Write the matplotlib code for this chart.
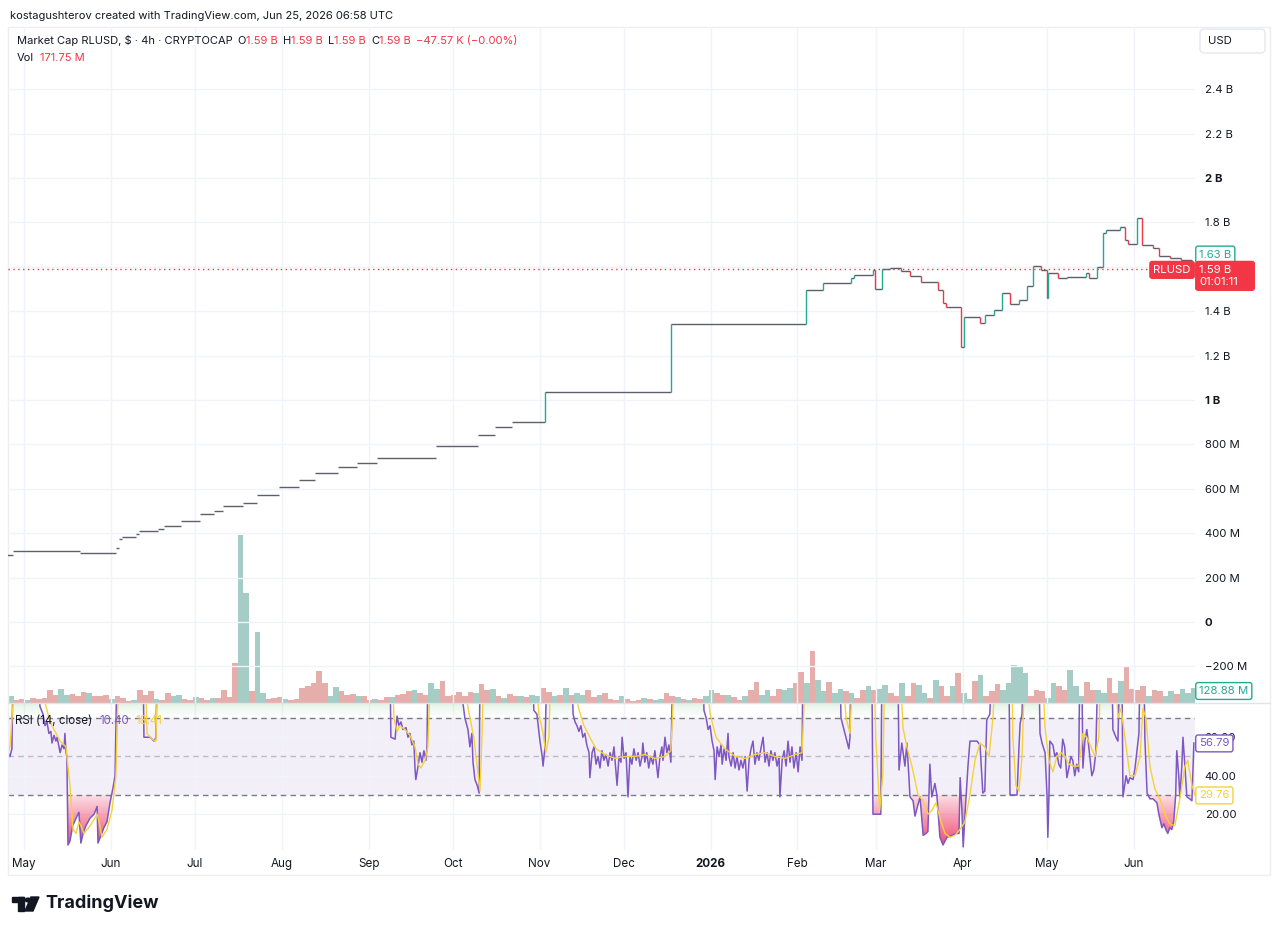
import numpy as np
import pandas as pd
import matplotlib
matplotlib.use('Agg')
import matplotlib.pyplot as plt
import matplotlib.dates as mdates
from matplotlib.collections import LineCollection
from matplotlib.path import Path
from matplotlib.patches import Rectangle, Circle, Polygon, FancyBboxPatch
from matplotlib.colors import to_rgb

plt.rcParams['font.family'] = ['Inter', 'DejaVu Sans']

W, H = 1280, 931
START = pd.Timestamp('2025-04-25 08:00')
SPAN_DAYS = 423.5

# --- market cap (billions USD), step changes ---
cap_dates = ['2025-04-25', '2025-04-27', '2025-05-21', '2025-06-03', '2025-06-04', '2025-06-05',
             '2025-06-10', '2025-06-11', '2025-06-18', '2025-06-20', '2025-06-26', '2025-07-03',
             '2025-07-08', '2025-07-11', '2025-07-18', '2025-07-23', '2025-07-31', '2025-08-07',
             '2025-08-13', '2025-08-21', '2025-08-28', '2025-09-04', '2025-09-25', '2025-10-10',
             '2025-10-16', '2025-10-22', '2025-11-03', '2025-12-18', '2026-02-04', '2026-02-10',
             '2026-02-20', '2026-02-21', '2026-02-28', '2026-02-28 12:00', '2026-03-03', '2026-03-06',
             '2026-03-10', '2026-03-13', '2026-03-17', '2026-03-23', '2026-03-25', '2026-03-26',
             '2026-03-31 12:00', '2026-04-01 12:00', '2026-04-07', '2026-04-09', '2026-04-12', '2026-04-15',
             '2026-04-18', '2026-04-21', '2026-04-24', '2026-04-26', '2026-04-29', '2026-05-01',
             '2026-05-01 12:00', '2026-05-05', '2026-05-08', '2026-05-15', '2026-05-16', '2026-05-19',
             '2026-05-21', '2026-05-22', '2026-05-27', '2026-05-29', '2026-05-30', '2026-06-02',
             '2026-06-04', '2026-06-08', '2026-06-10', '2026-06-14', '2026-06-18']
cap_values = [0.300, 0.318, 0.310, 0.333, 0.374, 0.383, 0.396, 0.410, 0.419, 0.432, 0.455, 0.486,
              0.500, 0.522, 0.536, 0.572, 0.608, 0.640, 0.671, 0.698, 0.716, 0.739, 0.793, 0.842,
              0.878, 0.900, 1.036, 1.342, 1.495, 1.527, 1.550, 1.563, 1.586, 1.500, 1.590, 1.595,
              1.580, 1.558, 1.530, 1.495, 1.437, 1.419, 1.240, 1.374, 1.347, 1.383, 1.405, 1.482,
              1.432, 1.450, 1.513, 1.604, 1.586, 1.460, 1.572, 1.550, 1.554, 1.572, 1.550, 1.600,
              1.752, 1.766, 1.780, 1.720, 1.703, 1.820, 1.698, 1.685, 1.649, 1.640, 1.632]
cap_end_day = 422.4

# --- volume (millions USD), one bar per 2 days from START ---
vol_values = [60, 26, 34, 26, 43, 34, 43, 112, 69, 120,
              69, 77, 60, 95, 86, 60, 60, 69, 34, 60,
              43, 17, 26, 112, 69, 103, 34, 26, 86, 60,
              69, 34, 26, 52, 43, 26, 43, 43, 112, 52,
              344, 1445, 946, 103, 611, 86, 34, 43, 52, 34,
              26, 34, 129, 146, 172, 275, 172, 60, 138, 103,
              69, 77, 60, 60, 26, 34, 26, 52, 52, 69,
              77, 103, 112, 86, 69, 172, 120, 189, 60, 69,
              95, 60, 95, 86, 163, 112, 120, 60, 43, 77,
              60, 60, 52, 69, 60, 129, 95, 60, 69, 129,
              69, 86, 69, 112, 52, 69, 86, 34, 26, 60,
              34, 17, 26, 43, 34, 26, 34, 86, 60, 52,
              34, 26, 43, 34, 60, 112, 86, 69, 69, 52,
              26, 60, 112, 181, 69, 112, 60, 120, 112, 129,
              172, 267, 172, 447, 198, 103, 181, 86, 120, 103,
              86, 43, 112, 146, 112, 120, 155, 86, 60, 172,
              60, 172, 155, 86, 43, 198, 146, 60, 146, 258,
              86, 34, 189, 241, 60, 103, 163, 112, 172, 327,
              318, 258, 60, 112, 103, 43, 172, 146, 112, 284,
              146, 60, 181, 112, 112, 86, 215, 86, 189, 318,
              120, 112, 146, 60, 112, 103, 60, 103, 77, 120,
              86, 129]
vol_dirs = ("uddudddddu" "udddudddud" "dduddduddu" "uddudduddd" "duuduudddu"
            "ddddddduud" "ddudduddud" "ddudduuddd" "ddduddudud" "duduuddudu"
            "duuddudddu" "ddduduuddu" "dudduuddud" "dudduudduu" "dduduuduud"
            "udduduuddu" "dduududdud" "uududdduuu" "uuddduuddu" "uudduuddud"
            "dddudduudu" "uu")

# --- RSI(14) and its MA, breakpoints in days from START ---
rsi_days = [0.0, 0.7, 1.4, 1.8, 10.7, 11.4, 12.5, 13.2, 13.9, 14.6, 15.3, 15.7, 16.4, 17.1, 17.5, 18.2,
            18.6, 19.3, 20.0, 20.3, 20.7, 21.0, 21.4, 22.1, 23.1, 24.3, 25.3, 26.0, 26.8, 27.8, 29.3,
            30.7, 31.8, 32.1, 33.2, 34.2, 35.3, 36.4, 37.5, 38.2, 38.9, 48.2, 48.5, 50.7, 52.1, 52.8,
            53.2,
            136.3, 136.6, 138.1, 138.8, 139.5, 140.2, 140.9, 142.0, 142.7, 143.4, 144.1, 144.8, 145.2,
            145.5, 146.2, 147.0, 147.7, 148.4, 149.1, 149.5, 149.8,
            162.0, 162.3, 163.0, 164.1, 164.8, 165.5, 165.9, 166.6, 167.4, 168.1, 168.4,
            187.3, 187.6, 188.7, 189.8, 190.6, 190.9, 191.6, 192.3,
            201.2, 201.6, 202.3, 203.0, 203.7, 204.4, 205.1, 205.8, 206.5, 207.3, 207.6, 208.4, 209.1,
            209.8, 210.5, 211.2, 211.9, 212.6, 213.3, 214.1, 214.8, 215.5, 216.2, 216.9, 217.3, 218.0,
            218.7, 219.1, 219.8, 220.5, 221.2, 221.9, 222.6, 223.3, 224.1, 224.8, 225.5, 226.2, 226.5,
            227.2, 227.9, 228.6, 229.3, 230.1, 230.8, 231.5, 231.9, 232.6, 233.3, 233.7, 234.4, 235.1,
            235.8, 236.5, 237.2,
            248.0, 248.3, 249.1, 249.8, 250.5, 251.2, 251.9, 252.3, 253.0, 253.7, 254.4, 254.8, 255.5,
            256.2, 256.9, 257.2, 258.0, 258.7, 259.4, 260.1, 260.8, 261.5, 262.2, 263.0, 263.7, 264.4,
            265.1, 265.8, 266.5, 267.2, 267.9, 268.6, 269.4, 270.1, 270.8, 271.5, 272.2, 272.9, 273.6,
            274.4, 275.1, 275.4, 276.2, 276.9, 277.6, 278.3, 279.0, 279.7, 280.4, 281.2, 281.9, 282.6,
            283.3, 283.6,
            296.8, 297.2, 297.9, 298.6, 299.3, 300.0, 300.4, 300.7,
            308.2, 308.6, 311.4, 311.8,
            317.5, 317.9, 318.9, 320.0, 320.7, 321.4, 321.8, 322.9, 323.6, 324.7, 325.4, 326.5, 327.5,
            328.2, 328.9, 329.6, 330.7, 331.4, 332.5, 333.6, 335.0, 336.8, 338.2, 339.3, 339.7, 340.4,
            340.8, 341.4, 342.5, 343.2, 345.7, 346.8, 347.8, 348.5, 349.2, 350.3, 351.0,
            357.1, 357.5, 360.0, 360.7, 361.1, 361.8, 362.1,
            367.8, 368.2, 368.9, 370.0, 370.7, 371.0, 371.4, 371.7, 372.8, 373.5, 374.2, 374.9, 375.6,
            376.3, 377.0, 377.8, 378.5, 379.2, 379.9, 380.6, 381.3, 382.0, 382.4, 383.1, 383.5, 384.2,
            384.9, 385.6, 386.7, 387.4, 388.1, 388.9,
            393.9, 394.2, 395.3, 396.0, 396.7, 397.4, 397.8, 398.9, 399.6, 400.3, 401.4, 402.1, 402.8,
            403.5, 403.9, 405.3, 405.6, 406.4, 407.4, 408.5, 409.9, 410.6, 411.7, 412.4, 413.1, 413.8,
            414.5, 415.2, 415.9, 416.6, 417.0, 417.7, 418.1, 418.8, 419.2, 419.9, 420.6, 421.6, 422.4,
            423.1]
rsi_values = [52, 50, 54, 100, 100, 76, 72, 66, 68, 62, 63, 57, 61, 58, 60, 55,
              52, 56, 54, 62, 52, 50, 4, 6, 14, 18, 21, 5, 10, 14, 18,
              20, 24, 5, 9, 13, 16, 26, 34, 40, 100, 100, 60, 60, 58, 60,
              100,
              100, 60, 59, 71, 66, 68, 64, 65, 60, 62, 56, 58, 44,
              38, 44, 52, 47, 53, 48, 55, 100,
              100, 78, 70, 64, 55, 62, 47, 38, 35, 31, 100,
              100, 74, 72, 58, 50, 45, 55, 100,
              100, 72, 68, 66, 63, 66, 60, 62, 56, 52, 39, 52, 55,
              46, 50, 44, 53, 48, 51, 45, 52, 48, 55, 42, 35, 50,
              47, 60, 49, 52, 29, 50, 46, 54, 48, 52, 45, 50, 57,
              47, 52, 44, 50, 46, 53, 44, 39, 50, 55, 48, 60, 52,
              56, 47, 100,
              100, 74, 70, 64, 66, 58, 53, 38, 55, 50, 56, 46, 54,
              48, 62, 50, 45, 52, 44, 50, 43, 48, 44, 50, 32, 48,
              54, 58, 46, 52, 48, 54, 60, 47, 52, 45, 53, 48, 52,
              45, 50, 29, 48, 53, 45, 58, 47, 55, 44, 52, 42, 55,
              48, 100,
              100, 70, 66, 62, 58, 54, 60, 100,
              100, 20, 20, 100,
              100, 43, 57, 45, 57, 40, 29, 27, 19, 25, 29, 9, 10,
              11, 46, 29, 36, 30, 8, 4, 8, 9, 10, 10, 39, 20,
              3, 19, 45, 58, 58, 56, 31, 32, 69, 72, 100,
              100, 30, 30, 55, 67, 72, 100,
              100, 62, 57, 52, 30, 8, 30, 58, 56, 50, 52, 46, 44,
              59, 55, 39, 44, 50, 48, 40, 46, 42, 100, 100, 44, 58,
              64, 55, 40, 43, 52, 100,
              100, 64, 60, 58, 100, 100, 29, 40, 36, 39, 38, 44, 53,
              62, 100, 100, 60, 31, 28, 28, 26, 20, 13, 15, 12, 10,
              13, 12, 16, 30, 53, 40, 29, 45, 60, 45, 29, 28, 27,
              57]
ma_days = [0.0, 0.7, 2.9, 11.4, 13.2, 15.0, 16.8, 18.6, 20.7, 22.1, 23.2, 24.3, 25.3, 26.0, 27.1, 29.3,
           31.8, 32.5, 33.5, 35.3, 37.1, 38.5, 39.6, 48.9, 49.6, 51.4, 52.8, 53.5,
           137.0, 137.7, 138.8, 139.8, 141.6, 143.4, 145.2, 146.3, 147.3, 148.8, 149.8, 150.9,
           162.7, 163.8, 164.8, 166.2, 167.3, 168.4, 169.1, 169.8,
           188.0, 189.4, 190.9, 191.9, 193.0, 193.7,
           201.9, 203.4, 205.5, 207.6, 209.8, 213.0, 216.6, 220.1, 223.7, 227.3, 230.8, 234.4, 236.5, 238.0,
           248.7, 250.5, 252.6, 255.8, 259.4, 263.0, 266.5, 270.1, 273.6, 277.2, 280.8, 283.3, 284.7,
           297.5, 299.0, 300.4, 301.5,
           308.9, 309.6, 311.0, 312.1, 312.9,
           318.2, 319.3, 320.7, 322.5, 324.7, 326.5, 328.2, 329.6, 331.1, 332.5, 334.3, 336.1, 337.8,
           339.6, 341.4, 343.2, 345.0, 346.8, 348.5, 350.0, 351.4, 352.5,
           358.2, 358.5, 359.6, 360.7, 361.8, 362.8,
           368.9, 370.0, 371.4, 372.8, 374.2, 375.7, 377.1, 378.5, 380.3, 382.1, 383.5, 384.9, 386.4,
           387.8, 389.2, 389.9,
           394.9, 396.0, 397.1, 398.5, 400.3, 402.1, 403.9, 404.9, 406.0, 407.4, 409.2, 411.0, 412.8,
           414.5, 416.3, 418.1, 419.9, 420.9, 422.4, 423.5]
ma_values = [52, 55, 100, 100, 78, 68, 63, 58, 55, 35, 12, 10, 16, 14, 10, 14,
             20, 16, 8, 12, 22, 40, 100, 100, 62, 59, 58, 100,
             100, 70, 63, 66, 64, 61, 55, 46, 44, 48, 55, 100,
             100, 78, 70, 60, 46, 32, 60, 100,
             100, 72, 62, 52, 60, 100,
             100, 76, 66, 60, 54, 51, 49, 50, 50, 51, 49, 50, 53, 100,
             100, 72, 60, 54, 50, 49, 51, 52, 50, 49, 51, 52, 100,
             100, 70, 62, 100,
             100, 60, 22, 40, 100,
             100, 65, 55, 45, 30, 27, 20, 22, 26, 18, 10, 8, 9,
             12, 16, 30, 48, 57, 55, 50, 70, 100,
             100, 60, 35, 32, 50, 100,
             100, 65, 48, 42, 50, 52, 50, 46, 45, 45, 62, 60, 55,
             50, 60, 100,
             100, 70, 75, 60, 40, 40, 50, 75, 70, 45, 33, 28, 20,
             15, 14, 28, 45, 48, 35, 30]

month_ticks = ['2025-05-01', '2025-06-01', '2025-07-01', '2025-08-01', '2025-09-01', '2025-10-01',
               '2025-11-01', '2025-12-01', '2026-01-01', '2026-02-01', '2026-03-01', '2026-04-01',
               '2026-05-01', '2026-06-01']
month_labels = ['May', 'Jun', 'Jul', 'Aug', 'Sep', 'Oct', 'Nov', 'Dec', '2026', 'Feb', 'Mar', 'Apr',
                'May', 'Jun']
price_ticks = [-0.2, 0, 0.2, 0.4, 0.6, 0.8, 1.0, 1.2, 1.4, 1.6, 1.8, 2.0, 2.2, 2.4]
# the 1.6 B label sits under the live price tag, so it is left blank
price_labels = ['\u2212200 M', '0', '200 M', '400 M', '600 M', '800 M', '1 B', '1.2 B', '1.4 B',
                '', '1.8 B', '2 B', '2.2 B', '2.4 B']
rsi_ticks = [20, 40, 60]
rsi_labels = ['20.00', '40.00', '60.00']

TEXT = '#131722'
UP = '#22ab94'
DOWN = '#f23645'
FLAT = '#5d606b'
PURPLE = '#7e57c2'
YELLOW = '#f5d13a'
GRID = '#f0f3fa'


def fx(px):
    return px / W


def fy(py):
    return 1 - py / H


fig = plt.figure(figsize=(W / 100, H / 100), dpi=100)
ax = fig.add_axes([fx(8), fy(703), (1195 - 8) / W, (703 - 27) / H])
axr = fig.add_axes([fx(8), fy(850), (1195 - 8) / W, (850 - 703) / H], sharex=ax)
axv = ax.twinx()
axv.set_zorder(0)
ax.set_zorder(1)
ax.patch.set_visible(False)

d0 = mdates.date2num(START.to_pydatetime())
month_nums = mdates.date2num(pd.to_datetime(month_ticks).to_pydatetime())

# volume bars
vx = d0 + 2.0 * np.arange(len(vol_values))
vcol = ['#a5ccc5' if c == 'u' else '#e5aeab' for c in vol_dirs]
axv.bar(vx, vol_values, width=2.0, align='edge', color=vcol, linewidth=0)
axv.set_ylim(0, 676 * 8.6)
axv.axis('off')

# market cap step line
cx = mdates.date2num(pd.to_datetime(cap_dates, format='ISO8601').to_pydatetime())
connect_from = mdates.date2num(pd.Timestamp('2025-10-30').to_pydatetime())
segs, cols = [], []
for i, v in enumerate(cap_values):
    x1 = cx[i + 1] if i + 1 < len(cx) else d0 + cap_end_day
    segs.append([(cx[i], v), (x1, v)])
    cols.append(FLAT)
    if i + 1 < len(cx) and x1 >= connect_from:
        v2 = cap_values[i + 1]
        segs.append([(x1, v), (x1, v2)])
        cols.append(UP if v2 > v else DOWN)
ax.add_collection(LineCollection(segs, colors=cols, linewidths=1.0, zorder=3))
ax.axhline(1.59, color=DOWN, lw=1, linestyle=(0, (1, 2.5)), zorder=2)

ax.set_xlim(d0, d0 + SPAN_DAYS)
ax.set_ylim(-0.365, 2.680)
ax.set_yticks(price_ticks, price_labels)
ax.yaxis.tick_right()
ax.tick_params(axis='y', length=0, pad=7, labelsize=8.2, labelcolor=TEXT)
ax.tick_params(axis='x', length=0, labelbottom=False)
ax.set_xticks(month_nums)
ax.grid(True, color=GRID, lw=1)
ax.set_axisbelow(True)
for s in ax.spines.values():
    s.set_visible(False)
for t in ax.get_yticklabels():
    if t.get_text() in ('2 B', '1 B', '0'):
        t.set_fontweight('bold')

# RSI pane
rx = d0 + np.array(rsi_days)
ry = np.array(rsi_values, dtype=float)
mx = d0 + np.array(ma_days)
my = np.array(ma_values, dtype=float)

axr.axhspan(30, 70, color=PURPLE, alpha=0.09, lw=0, zorder=0)
axr.axhline(70, color='#787b86', lw=1, dashes=(4, 3), zorder=2)
axr.axhline(30, color='#787b86', lw=1, dashes=(4, 3), zorder=2)
axr.axhline(50, color='#787b86', lw=1, dashes=(4, 3), alpha=0.45, zorder=2)


def gradient_fill(axis, x, y, level, lo, hi, color, a_lo, a_hi, where):
    coll = axis.fill_between(x, y, level, where=where, interpolate=True,
                             facecolor='none', edgecolor='none')
    paths = [p for p in coll.get_paths() if len(p.vertices)]
    clip = Path.make_compound_path(*paths)
    grad = np.zeros((256, 1, 4))
    grad[..., :3] = to_rgb(color)
    grad[:, 0, 3] = np.linspace(a_lo, a_hi, 256)
    im = axis.imshow(grad, extent=[x[0], x[-1], lo, hi], origin='lower', aspect='auto',
                     interpolation='bilinear', zorder=1)
    im.set_clip_path(clip, transform=axis.transData)


gradient_fill(axr, rx, ry, 70, 70, 100, '#4caf50', 0.0, 0.6, ry > 70)
gradient_fill(axr, rx, ry, 30, 0, 30, '#ee3560', 1.0, 0.15, ry < 30)

axr.plot(rx, ry, color=PURPLE, lw=1.1, zorder=3)
axr.plot(mx, my, color=YELLOW, lw=1.0, zorder=4)

axr.set_xlim(d0, d0 + SPAN_DAYS)
axr.set_ylim(1.4, 77.8)
axr.set_yticks(rsi_ticks, rsi_labels)
axr.yaxis.tick_right()
axr.tick_params(axis='y', length=0, pad=7, labelsize=8.2, labelcolor=TEXT)
axr.set_xticks(month_nums, month_labels)
axr.tick_params(axis='x', length=0, pad=6, labelsize=8.4, labelcolor=TEXT)
axr.grid(True, color=GRID, lw=1)
axr.set_axisbelow(True)
for s in axr.spines.values():
    s.set_visible(False)
for t in axr.get_xticklabels():
    if t.get_text() == '2026':
        t.set_fontweight('bold')


# price / value tags on the right
def tag(axis, y, text, fc, ec, tc, dx=3, ha='left', size=8.2, ls=1.2):
    axis.annotate(text, xy=(1, y), xycoords=('axes fraction', 'data'), xytext=(dx, 0),
                  textcoords='offset points', ha=ha, va='center', fontsize=size, color=tc,
                  linespacing=ls, annotation_clip=False, zorder=10,
                  bbox=dict(boxstyle='round,pad=0.3,rounding_size=0.2', fc=fc, ec=ec, lw=1))


tag(ax, 1.655, '1.63 B', 'white', UP, UP)
tag(ax, 1.586, 'RLUSD', DOWN, DOWN, 'white', dx=-3, ha='right')
tag(ax, 1.559, '1.59 B      \n01:01:11', DOWN, DOWN, 'white', ls=1.25)
tag(ax, -0.311, '128.88 M', 'white', UP, UP)
tag(axr, 56.79, '56.79', 'white', PURPLE, PURPLE)
tag(axr, 29.76, '29.76', 'white', YELLOW, YELLOW)

# frame and separators
fig.add_artist(Rectangle((fx(8), fy(875)), (1270 - 8) / W, (875 - 27) / H, transform=fig.transFigure,
                         fill=False, ec='#eceef2', lw=1))
fig.add_artist(plt.Line2D([fx(8), fx(1270)], [fy(703), fy(703)], transform=fig.transFigure,
                          color='#e0e3eb', lw=1))
fig.add_artist(FancyBboxPatch((fx(1200), fy(53)), 65 / W, 24 / H, transform=fig.transFigure,
                              boxstyle='round,pad=0,rounding_size=0.004', fc='white',
                              ec='#e6e8ee', lw=1))
fig.text(fx(1208), fy(41), 'USD', fontsize=8.2, color=TEXT, va='center')

# header and legends
fig.text(fx(10), fy(16), 'kostagushterov created with TradingView.com, Jun 25, 2026 06:58 UTC',
         fontsize=8.0, color=TEXT, va='center')

renderer = fig.canvas.get_renderer()


def text_row(x, y, parts, size=8.0):
    for s, c, gap in parts:
        t = fig.text(fx(x), fy(y), s, color=c, fontsize=size, va='center')
        x += t.get_window_extent(renderer).width + gap


text_row(17, 41, [('Market Cap RLUSD, $ \u00b7 4h \u00b7 CRYPTOCAP', TEXT, 5),
                  ('O', TEXT, 0), ('1.59 B', DOWN, 5), ('H', TEXT, 0), ('1.59 B', DOWN, 5),
                  ('L', TEXT, 0), ('1.59 B', DOWN, 5), ('C', TEXT, 0), ('1.59 B', DOWN, 5),
                  ('\u221247.57 K (\u22120.00%)', DOWN, 0)])
text_row(17, 58, [('Vol', TEXT, 6), ('171.75 M', DOWN, 0)])
text_row(15, 721, [('RSI (14, close)', TEXT, 7), ('10.40', PURPLE, 6), ('18.41', YELLOW, 0)], size=8.3)

# TradingView logo
fig.add_artist(Rectangle((fx(12), fy(902)), 12 / W, 5 / H, transform=fig.transFigure, color=TEXT))
fig.add_artist(Rectangle((fx(18), fy(911)), 6 / W, 14 / H, transform=fig.transFigure, color=TEXT))
fig.add_artist(Circle((fx(28), fy(900)), 2.6 / W, transform=fig.transFigure, color=TEXT))
fig.add_artist(Polygon([(fx(31), fy(897)), (fx(39), fy(897)), (fx(33), fy(911)), (fx(25), fy(911))],
                       closed=True, transform=fig.transFigure, color=TEXT))
fig.text(fx(45), fy(903), 'TradingView', fontsize=13, fontweight='bold', color=TEXT, va='center')

fig.savefig('out.png', dpi=100)
